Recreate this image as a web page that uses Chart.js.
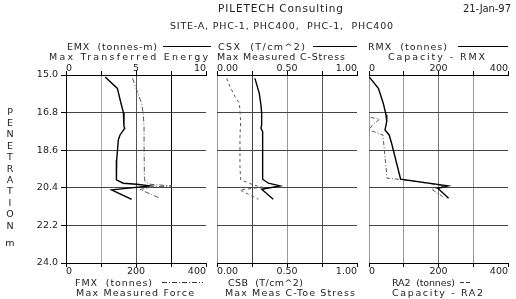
<!DOCTYPE html>
<html><head><meta charset="utf-8">
<script src="https://cdn.jsdelivr.net/npm/chart.js@4"></script>
<style>
html,body{margin:0;padding:0;background:#fff;}
#wrap{position:relative;width:516px;height:299px;overflow:hidden;background:#fff;}
canvas{position:absolute;}
svg{position:absolute;left:0;top:0;}
svg text{font-family:'DejaVu Sans',sans-serif;font-size:9.5px;fill:#222;white-space:pre;}
</style></head><body>
<div id="wrap">
<canvas id="c1" width="212" height="220" style="left:0px;top:60px"></canvas>
<canvas id="c2" width="150" height="220" style="left:212px;top:60px"></canvas>
<canvas id="c3" width="154" height="220" style="left:362px;top:60px"></canvas>
<svg width="516" height="299" xmlns="http://www.w3.org/2000/svg">
  <text x="218" y="12" textLength="125" lengthAdjust="spacing" style="font-size:10.5px">PILETECH Consulting</text>
  <text x="463" y="12" textLength="48" lengthAdjust="spacing" style="font-size:10px">21-Jan-97</text>
  <text x="170" y="29" textLength="223" lengthAdjust="spacing">SITE-A, PHC-1, PHC400,  PHC-1,  PHC400</text>

  <text x="67" y="50" textLength="90" lengthAdjust="spacing">EMX  (tonnes-m)</text>
  <line x1="163" y1="46.5" x2="211" y2="46.5" stroke="#000" stroke-width="1"/>
  <text x="218" y="50" textLength="87" lengthAdjust="spacing">CSX  (T/cm^2)</text>
  <line x1="313" y1="46.5" x2="357" y2="46.5" stroke="#000" stroke-width="1"/>
  <text x="368" y="50" textLength="79" lengthAdjust="spacing">RMX  (tonnes)</text>
  <line x1="458" y1="46.5" x2="508" y2="46.5" stroke="#000" stroke-width="1"/>

  <text x="49" y="60" textLength="159" lengthAdjust="spacing">Max Transferred Energy</text>
  <text x="217" y="60" textLength="128" lengthAdjust="spacing">Max Measured C-Stress</text>
  <text x="388" y="60" textLength="97" lengthAdjust="spacing">Capacity - RMX</text>

  <text x="75" y="286" textLength="77" lengthAdjust="spacing">FMX  (tonnes)</text>
  <line x1="162" y1="282.5" x2="203" y2="282.5" stroke="#333" stroke-width="1" stroke-dasharray="5,2,1,2"/>
  <text x="76" y="296" textLength="118" lengthAdjust="spacing">Max Measured Force</text>
  <text x="228" y="286" textLength="75" lengthAdjust="spacing">CSB  (T/cm^2)</text>
  <text x="225" y="296" textLength="130" lengthAdjust="spacing">Max Meas C-Toe Stress</text>
  <text x="392" y="286" textLength="63" lengthAdjust="spacing">RA2  (tonnes)</text>
  <line x1="460" y1="282.5" x2="472" y2="282.5" stroke="#333" stroke-width="1" stroke-dasharray="4,2"/>
  <text x="392" y="296" textLength="91" lengthAdjust="spacing">Capacity - RA2</text>

  <g text-anchor="middle">
    <text x="10" y="115">P</text>
    <text x="10" y="126">E</text>
    <text x="10" y="137">N</text>
    <text x="10" y="149">E</text>
    <text x="10" y="160">T</text>
    <text x="10" y="172">R</text>
    <text x="10" y="183">A</text>
    <text x="10" y="194">T</text>
    <text x="10" y="206">I</text>
    <text x="10" y="217">O</text>
    <text x="10" y="229">N</text>
    <text x="10" y="246">m</text>
  </g>
</svg>
</div>
<script>
// ---- tick values / labels ----
const depthTicks = [15.0, 16.8, 18.6, 20.4, 22.2, 24.0];
const emxTicks = [0, 2.5, 5, 7.5, 10];
const emxTickLabels = ['0', '', '5', '', '10'];
const forceTicks = [0, 100, 200, 300, 400];
const forceTickLabels = ['0', '', '200', '', '400'];
const stressTicks = [0, 0.25, 0.5, 0.75, 1.0];
const stressTickLabels = ['0.00', '', '0.50', '', '1.00'];

// ---- series: EMX (tonnes-m) ----
const emxDepth = [15.1, 15.64, 16.28, 16.8, 17.47, 17.55, 17.87, 18.1, 19.07, 20.02, 20.18, 20.23, 20.31, 20.5, 20.95];
const emxValues = [2.8, 3.67, 3.9, 4.1, 4.14, 4.2, 3.86, 3.74, 3.62, 3.6, 4.09, 5.05, 6.0, 3.26, 4.69];
// ---- FMX (tonnes) ----
const fmxDepth = [15.16, 15.72, 16.35, 16.91, 17.47, 18.27, 19.94, 20.1, 20.23, 20.31, 20.36, 20.48, 20.9];
const fmxValues = [190, 202, 216, 221, 223, 223, 224, 226, 240, 302, 250, 211, 269];
// ---- CSX (T/cm^2) ----
const csxDepth = [15.16, 15.88, 16.44, 16.83, 17.39, 17.55, 17.71, 19.99, 20.18, 20.31, 20.47, 20.95];
const csxValues = [0.271, 0.302, 0.314, 0.319, 0.319, 0.314, 0.326, 0.326, 0.367, 0.45, 0.319, 0.402];
// ---- CSB (T/cm^2) ----
const csbDepth = [15.16, 15.56, 16.04, 16.35, 16.75, 17.23, 17.95, 19.39, 20.02, 20.26, 20.37, 20.5, 20.95];
const csbValues = [0.069, 0.093, 0.129, 0.16, 0.164, 0.169, 0.164, 0.164, 0.169, 0.26, 0.32, 0.164, 0.295];
// ---- RMX (tonnes) ----
const rmxDepth = [15.08, 15.64, 16.35, 16.91, 17.23, 17.63, 17.87, 18.27, 19.99, 20.31, 20.42, 20.9];
const rmxValues = [0, 27, 41, 49, 51, 46, 58, 65, 91, 227, 198, 229];
// ---- RA2 (tonnes) ----
const ra2Depth = [17.03, 17.12, 17.39, 17.63, 17.87, 19.94, 20.0, 20.27, 20.36, 20.47, 20.82];
const ra2Values = [5, 30, 10, 0, 40, 52, 89, 205, 215, 180, 212];

const pts = (d, v) => d.map((y, i) => ({x: v[i], y: y}));
const tickFont = {family: 'DejaVu Sans', size: 9.5};
const TXT = '#222';
const CLEAR = 'rgba(0,0,0,0)';

function panel(id, o) {
  return new Chart(document.getElementById(id), {
    type: 'scatter',
    data: {datasets: [
      {data: pts(o.topDepth, o.topVals), xAxisID: 'xt', yAxisID: 'y', showLine: true, pointRadius: 0,
       borderColor: '#000', borderWidth: 1.4, fill: false},
      {data: pts(o.botDepth, o.botVals), xAxisID: 'xb', yAxisID: 'y', showLine: true, pointRadius: 0,
       borderColor: '#555', borderWidth: 1, borderDash: o.dash, fill: false}
    ]},
    options: {
      responsive: false, animation: false, devicePixelRatio: 1,
      layout: {padding: {left: 0, right: o.padR, top: 0, bottom: 0}},
      plugins: {legend: {display: false}, tooltip: {enabled: false}},
      scales: {
        xb: {type: 'linear', position: 'bottom', min: o.botTicks[0], max: o.botTicks[o.botTicks.length - 1],
          afterBuildTicks: s => { s.ticks = o.botTicks.map(v => ({value: v})); },
          afterFit: s => { s.height = 17; },
          ticks: {autoSkip: false, maxRotation: 0, align: 'inner', padding: -1, font: tickFont, color: TXT,
            callback: (v, i) => o.botLabels[i]},
          grid: {color: c => o.gridColors[c.index] || CLEAR, lineWidth: 1, tickLength: 4, tickColor: '#000'},
          border: {display: true, color: '#000', width: 1}},
        xt: {type: 'linear', position: 'top', min: o.topTicks[0], max: o.topTicks[o.topTicks.length - 1],
          afterBuildTicks: s => { s.ticks = o.topTicks.map(v => ({value: v})); },
          afterFit: s => { s.height = 15; },
          ticks: {autoSkip: false, maxRotation: 0, align: 'inner', padding: -3, font: tickFont, color: TXT,
            callback: (v, i) => o.topLabels[i]},
          grid: {drawOnChartArea: false, tickLength: 4, tickColor: '#000'},
          border: {display: true, color: '#000', width: 1}},
        y: {type: 'linear', reverse: true, min: depthTicks[0], max: depthTicks[depthTicks.length - 1],
          afterBuildTicks: s => { s.ticks = depthTicks.map(v => ({value: v})); },
          afterFit: s => { s.width = o.yWidth; },
          ticks: {display: o.yLabels, padding: 3, font: tickFont, color: TXT, callback: v => Number(v).toFixed(1)},
          grid: {color: c => (c.index === 0 || c.index === depthTicks.length - 1) ? CLEAR : '#444',
            lineWidth: 1, drawTicks: o.yLabels, tickLength: 5, tickColor: '#000'},
          border: {display: o.yLabels, color: '#000', width: 1}}
      }
    }
  });
}

panel('c1', {
  topDepth: emxDepth, topVals: emxValues, botDepth: fmxDepth, botVals: fmxValues, dash: [5, 2, 1, 2],
  topTicks: emxTicks, topLabels: emxTickLabels, botTicks: forceTicks, botLabels: forceTickLabels,
  gridColors: ['#000', '#aaa', '#555', '#000'], yWidth: 66, padR: 6, yLabels: true
});
panel('c2', {
  topDepth: csxDepth, topVals: csxValues, botDepth: csbDepth, botVals: csbValues, dash: [3, 3],
  topTicks: stressTicks, topLabels: stressTickLabels, botTicks: stressTicks, botLabels: stressTickLabels,
  gridColors: ['#999', '#444', '#999', '#555'], yWidth: 5, padR: 5, yLabels: false
});
panel('c3', {
  topDepth: rmxDepth, topVals: rmxValues, botDepth: ra2Depth, botVals: ra2Values, dash: [4, 2, 1, 2],
  topTicks: forceTicks, topLabels: forceTickLabels, botTicks: forceTicks, botLabels: forceTickLabels,
  gridColors: ['#999', '#999', '#777', '#999'], yWidth: 7, padR: 8, yLabels: false
});
</script>
</body></html>
